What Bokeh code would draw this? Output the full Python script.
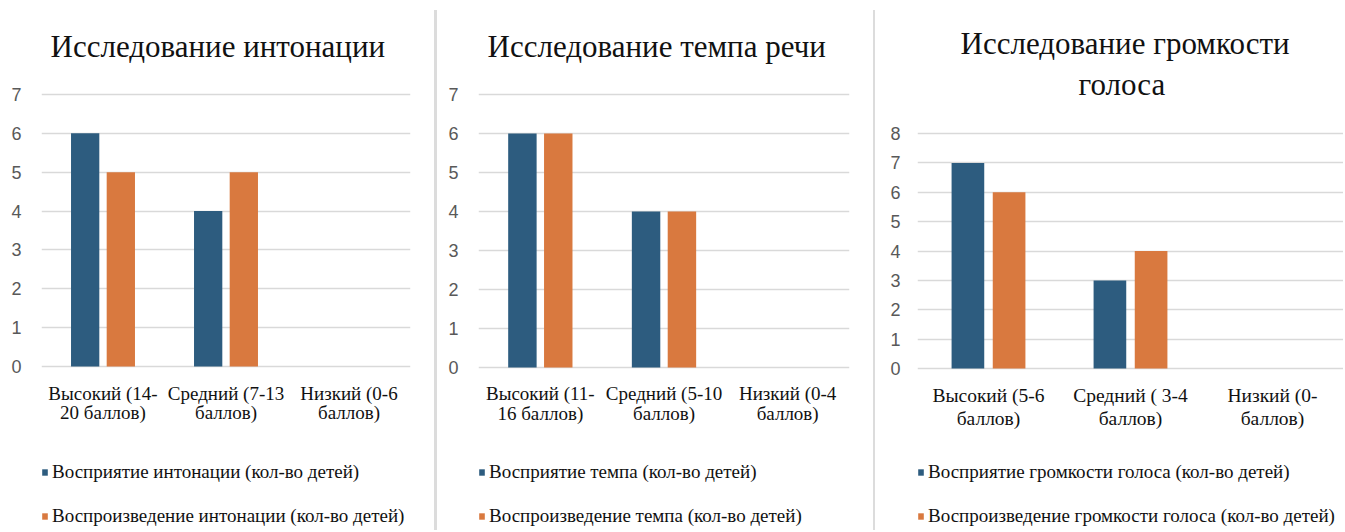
from bokeh.plotting import figure
from bokeh.models import FactorRange, Range1d, FixedTicker, Legend, LegendItem, Div, ColumnDataSource, Title
from bokeh.layouts import row
from bokeh.transform import dodge
from bokeh.embed import file_html
from bokeh.resources import INLINE

# ---- data ----
titles1 = ["Исследование интонации"]
titles2 = ["Исследование темпа речи"]
titles3 = ["Исследование громкости", "голоса"]
cats1 = ["Высокий (14-\n20 баллов)", "Средний (7-13\nбаллов)", "Низкий (0-6\nбаллов)"]
cats2 = ["Высокий (11-\n16 баллов)", "Средний (5-10\nбаллов)", "Низкий (0-4\nбаллов)"]
cats3 = ["Высокий (5-6\nбаллов)", "Средний ( 3-4\nбаллов)", "Низкий (0-\nбаллов)"]
perc1 = [6, 4, 0]
repr1 = [5, 5, 0]
perc2 = [6, 4, 0]
repr2 = [6, 4, 0]
perc3 = [7, 3, 0]
repr3 = [6, 4, 0]
legend1 = ["Восприятие интонации (кол-во детей)", "Воспроизведение интонации (кол-во детей)"]
legend2 = ["Восприятие темпа (кол-во детей)", "Воспроизведение темпа (кол-во детей)"]
legend3 = ["Восприятие громкости голоса (кол-во детей)", "Воспроизведение громкости голоса (кол-во детей)"]
yticks1 = [0, 1, 2, 3, 4, 5, 6, 7]
yticks2 = [0, 1, 2, 3, 4, 5, 6, 7]
yticks3 = [0, 1, 2, 3, 4, 5, 6, 7, 8]

BLUE = "#2D5C7F"
ORANGE = "#D9793F"
GRID = "#D9D9D9"
SERIF = "'Liberation Serif'"
SANS = "'Liberation Sans'"
H = 530
TOP = 90


def make_panel(title_lines, cats, a, b, labels, y_start, y_end, ticks, width, mb_left, mb_right,
               title_standoffs, title_offsets, ylab_standoff, cat_font, cat_line_height,
               cat_standoff, leg_loc):
    src = ColumnDataSource(dict(cat=cats, a=a, b=b))
    p = figure(x_range=FactorRange(*cats), y_range=Range1d(y_start, y_end),
               width=width, height=H, output_backend="svg", toolbar_location=None,
               min_border_left=mb_left, min_border_right=mb_right,
               min_border_top=TOP, min_border_bottom=0, title=None)
    p.outline_line_color = None
    for line, so, off in zip(reversed(title_lines), title_standoffs, title_offsets):
        t = Title(text=line, align="left", text_font=SERIF, text_font_size="31px",
                  text_font_style="normal", text_color="#111111", standoff=so, offset=off)
        p.add_layout(t, "above")

    r1 = p.vbar(x=dodge("cat", -0.145, range=p.x_range), top="a", width=0.23,
                source=src, fill_color=BLUE, line_color=None)
    r2 = p.vbar(x=dodge("cat", 0.145, range=p.x_range), top="b", width=0.23,
                source=src, fill_color=ORANGE, line_color=None)

    p.xgrid.visible = False
    p.ygrid.grid_line_color = GRID
    p.ygrid.grid_line_width = 1.5
    p.yaxis.ticker = FixedTicker(ticks=ticks)
    for ax in (p.xaxis[0], p.yaxis[0]):
        ax.axis_line_color = None
        ax.major_tick_line_color = None
        ax.minor_tick_line_color = None
    p.xaxis.fixed_location = 0
    p.yaxis.major_label_text_font = SANS
    p.yaxis.major_label_text_font_size = "18px"
    p.yaxis.major_label_text_color = "#595959"
    p.yaxis.major_label_standoff = ylab_standoff
    p.xaxis.major_label_text_font = SERIF
    p.xaxis.major_label_text_font_size = cat_font
    p.xaxis.major_label_text_color = "#111111"
    p.xaxis.major_label_text_line_height = cat_line_height
    p.xaxis.major_label_standoff = cat_standoff

    legend = Legend(items=[LegendItem(label=labels[0], renderers=[r1]),
                           LegendItem(label=labels[1], renderers=[r2])],
                    location=leg_loc, orientation="vertical",
                    glyph_width=7, glyph_height=8, label_standoff=4,
                    label_text_font=SERIF, label_text_font_size="19px",
                    label_text_color="#111111", label_height=20,
                    spacing=22, padding=0, margin=0,
                    border_line_color=None, background_fill_alpha=0)
    p.add_layout(legend, "center")
    return p


p1 = make_panel(titles1, cats1, perc1, repr1, legend1, -4.22, 7.103, yticks1,
                434, 41, 24, [53], [9], 14, "19px", 0.95, 10, (0, 3))
p2 = make_panel(titles2, cats2, perc2, repr2, legend2, -4.18, 7.103, yticks2,
                436, 41, 24, [53], [9], 14, "19px", 0.95, 10, (0, 3))
p3 = make_panel(titles3, cats3, perc3, repr3, legend3, -5.51, 9.464, yticks3,
                468, 42, 0, [-23, 31], [161, 43], 11, "19.5px", 1.12, 10, (0, 3))

sep1 = Div(width=3, height=H - 10, margin=(10, 0, 0, 0), styles={"background-color": "#DCDCDC"})
sep2 = Div(width=2, height=H - 10, margin=(10, 0, 0, 0), styles={"background-color": "#DCDCDC"})

layout = row(p1, sep1, p2, sep2, p3, spacing=0)

open("out.html", "w").write(file_html(layout, INLINE))
